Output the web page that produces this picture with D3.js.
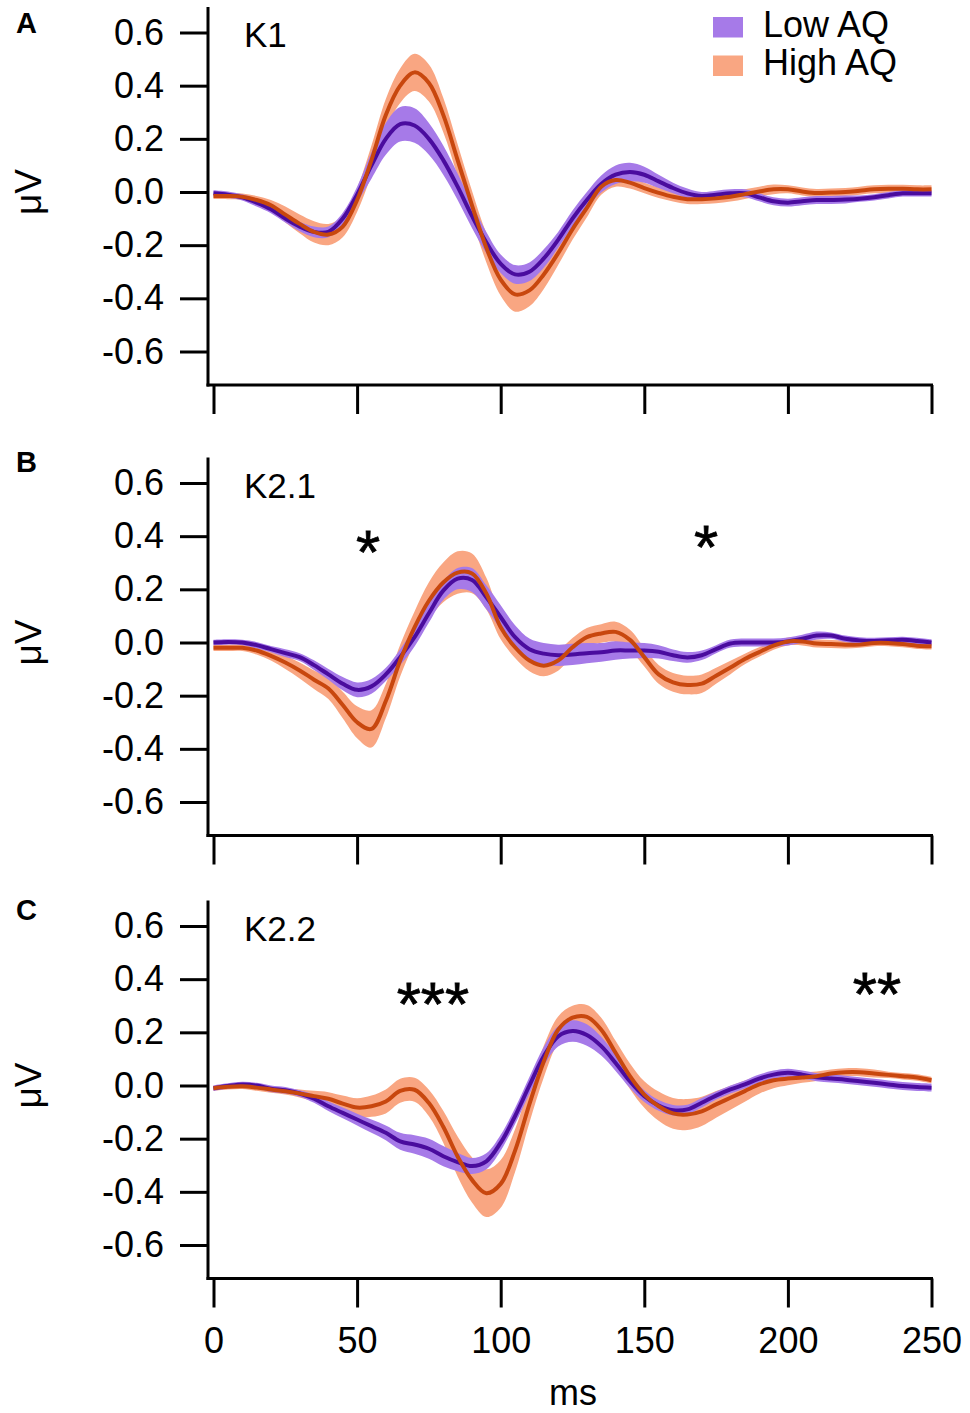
<!DOCTYPE html>
<html>
<head>
<meta charset="utf-8">
<script src="https://cdn.jsdelivr.net/npm/d3@7"></script>
<style>
  body { margin: 0; background: #fff; }
  svg text { font-family: "Liberation Sans", Arial, Helvetica, sans-serif; fill: #000; }
</style>
</head>
<body>
<div id="chart"></div>
<script>

// sample times (ms)
var times = [0, 5, 10, 15, 20, 25, 30, 35, 40, 45,
             50, 55, 60, 65, 70, 75, 80, 85, 90, 95,
             100, 105, 110, 115, 120, 125, 130, 135, 140, 145,
             150, 155, 160, 165, 170, 175, 180, 185, 190, 195,
             200, 205, 210, 215, 220, 225, 230, 235, 240, 245,
             250];

var xTicks = [0, 50, 100, 150, 200, 250];
var yTicks = [-0.6, -0.4, -0.2, 0, 0.2, 0.4, 0.6];
var groups = ["Low AQ", "High AQ"];

// K1 kernel (mean and sem, µV)
var lowA = [-0.005, -0.01, -0.02, -0.04, -0.065, -0.10, -0.13, -0.15, -0.15, -0.10,
            -0.01, 0.10, 0.20, 0.255, 0.25, 0.20, 0.12, 0.02, -0.09, -0.19,
            -0.27, -0.31, -0.30, -0.25, -0.18, -0.10, -0.03, 0.03, 0.065, 0.075,
            0.065, 0.04, 0.015, -0.005, -0.015, -0.01, -0.005, -0.005, -0.02, -0.035,
            -0.04, -0.035, -0.03, -0.03, -0.028, -0.025, -0.02, -0.012, -0.005, -0.005,
            -0.005];
var lowA_sem = [0.012, 0.012, 0.012, 0.015, 0.015, 0.015, 0.018, 0.02, 0.02, 0.022,
                0.03, 0.05, 0.06, 0.065, 0.065, 0.06, 0.055, 0.05, 0.045, 0.04,
                0.035, 0.035, 0.035, 0.035, 0.03, 0.03, 0.03, 0.032, 0.035, 0.035,
                0.03, 0.025, 0.02, 0.018, 0.015, 0.015, 0.015, 0.015, 0.015, 0.015,
                0.015, 0.015, 0.015, 0.015, 0.015, 0.012, 0.012, 0.012, 0.012, 0.012,
                0.012];
var highA = [-0.015, -0.015, -0.018, -0.03, -0.05, -0.085, -0.12, -0.15, -0.16, -0.13,
             -0.03, 0.12, 0.29, 0.40, 0.45, 0.41, 0.29, 0.12, -0.05, -0.21,
             -0.33, -0.385, -0.37, -0.31, -0.23, -0.14, -0.06, 0.02, 0.045, 0.035,
             0.015, -0.003, -0.018, -0.027, -0.027, -0.024, -0.018, -0.008, 0.002, 0.01,
             0.01, 0.002, -0.004, -0.002, 0.0, 0.005, 0.01, 0.012, 0.012, 0.01,
             0.01];
var highA_sem = [0.012, 0.012, 0.012, 0.015, 0.02, 0.03, 0.035, 0.04, 0.04, 0.04,
                 0.045, 0.055, 0.06, 0.065, 0.07, 0.07, 0.065, 0.06, 0.055, 0.055,
                 0.06, 0.065, 0.06, 0.055, 0.045, 0.04, 0.035, 0.03, 0.025, 0.022,
                 0.02, 0.02, 0.018, 0.018, 0.018, 0.018, 0.018, 0.018, 0.018, 0.018,
                 0.015, 0.015, 0.015, 0.015, 0.015, 0.015, 0.015, 0.015, 0.015, 0.015,
                 0.015];

// K2.1 kernel
var lowB = [0, 0.002, 0, -0.01, -0.025, -0.04, -0.055, -0.085, -0.12, -0.155,
            -0.178, -0.165, -0.12, -0.055, 0.02, 0.11, 0.195, 0.24, 0.235, 0.17,
            0.095, 0.02, -0.025, -0.042, -0.048, -0.045, -0.04, -0.037, -0.03, -0.03,
            -0.03, -0.035, -0.048, -0.056, -0.048, -0.025, -0.004, 0, 0, 0,
            0.004, 0.014, 0.026, 0.026, 0.014, 0.008, 0.006, 0.008, 0.01, 0.006,
            0];
var lowB_sem = [0.01, 0.01, 0.01, 0.012, 0.012, 0.015, 0.015, 0.018, 0.02, 0.025,
                0.028, 0.028, 0.025, 0.03, 0.035, 0.035, 0.035, 0.04, 0.045, 0.045,
                0.045, 0.045, 0.04, 0.04, 0.04, 0.04, 0.038, 0.035, 0.035, 0.03,
                0.028, 0.025, 0.022, 0.02, 0.018, 0.015, 0.015, 0.015, 0.015, 0.015,
                0.015, 0.015, 0.015, 0.012, 0.012, 0.012, 0.012, 0.012, 0.012, 0.012,
                0.012];
var highB = [-0.02, -0.02, -0.02, -0.03, -0.05, -0.075, -0.105, -0.14, -0.173, -0.235,
             -0.30, -0.325, -0.22, -0.068, 0.057, 0.157, 0.226, 0.263, 0.26, 0.184,
             0.057, -0.018, -0.068, -0.087, -0.068, -0.018, 0.02, 0.034, 0.04, 0.01,
             -0.055, -0.12, -0.15, -0.16, -0.155, -0.125, -0.094, -0.062, -0.036, -0.012,
             0.004, 0.004, -0.004, -0.006, -0.008, -0.008, -0.002, -0.002, -0.006, -0.012,
             -0.014];
var highB_sem = [0.012, 0.012, 0.012, 0.015, 0.018, 0.025, 0.03, 0.035, 0.04, 0.05,
                 0.06, 0.07, 0.065, 0.06, 0.06, 0.07, 0.075, 0.08, 0.075, 0.06,
                 0.045, 0.04, 0.04, 0.04, 0.038, 0.035, 0.035, 0.035, 0.038, 0.038,
                 0.035, 0.035, 0.035, 0.035, 0.035, 0.03, 0.025, 0.02, 0.018, 0.015,
                 0.015, 0.015, 0.015, 0.015, 0.015, 0.012, 0.012, 0.012, 0.012, 0.012,
                 0.012];

// K2.2 kernel
var lowC = [-0.01, -0.002, 0.004, 0, -0.012, -0.018, -0.03, -0.05, -0.078, -0.103,
            -0.128, -0.153, -0.178, -0.21, -0.222, -0.238, -0.266, -0.288, -0.303, -0.285,
            -0.215, -0.115, 0, 0.11, 0.185, 0.205, 0.19, 0.148, 0.085, 0.016,
            -0.04, -0.075, -0.093, -0.09, -0.065, -0.038, -0.015, 0.004, 0.026, 0.041,
            0.048, 0.041, 0.031, 0.026, 0.022, 0.016, 0.01, 0.004, -0.002, -0.006,
            -0.008];
var lowC_sem = [0.01, 0.01, 0.01, 0.01, 0.012, 0.012, 0.012, 0.015, 0.018, 0.02,
                0.022, 0.025, 0.028, 0.032, 0.035, 0.038, 0.038, 0.035, 0.03, 0.03,
                0.03, 0.03, 0.032, 0.035, 0.038, 0.04, 0.04, 0.035, 0.03, 0.025,
                0.022, 0.02, 0.02, 0.018, 0.018, 0.015, 0.015, 0.015, 0.015, 0.015,
                0.015, 0.015, 0.015, 0.015, 0.015, 0.015, 0.015, 0.015, 0.015, 0.015,
                0.015];
var highC = [-0.01, -0.005, -0.003, -0.008, -0.015, -0.022, -0.03, -0.04, -0.05, -0.068,
             -0.083, -0.078, -0.06, -0.02, -0.016, -0.066, -0.155, -0.267, -0.355, -0.405,
             -0.37, -0.245, -0.07, 0.09, 0.21, 0.255, 0.258, 0.21, 0.123, 0.035,
             -0.034, -0.078, -0.105, -0.109, -0.097, -0.071, -0.046, -0.021, 0.004, 0.02,
             0.026, 0.03, 0.035, 0.045, 0.05, 0.05, 0.045, 0.04, 0.035, 0.03,
             0.02];
var highC_sem = [0.01, 0.01, 0.01, 0.012, 0.012, 0.012, 0.015, 0.02, 0.025, 0.03,
                 0.035, 0.04, 0.045, 0.045, 0.045, 0.05, 0.06, 0.075, 0.085, 0.09,
                 0.09, 0.08, 0.07, 0.06, 0.05, 0.045, 0.045, 0.045, 0.045, 0.048,
                 0.05, 0.055, 0.058, 0.058, 0.055, 0.05, 0.045, 0.04, 0.035, 0.03,
                 0.025, 0.02, 0.018, 0.015, 0.015, 0.015, 0.015, 0.012, 0.012, 0.012,
                 0.012];

// significance marks (time, µV)
var starsA = [];
var starsB = [{t: 53.8, v: 0.375, label: "*"}, {t: 171.5, v: 0.394, label: "*"}];
var starsC = [{t: 76.4, v: 0.341, label: "***"}, {t: 231, v: 0.378, label: "**"}];

var colors = {lowBand: "#a67ae8", lowLine: "#4a0c9e", highBand: "#f9a682", highLine: "#c8470e"};

var panels = [
  {letter: "A", name: "K1",   top: 32.5, letterY: 33,  low: lowA, lowSem: lowA_sem, high: highA, highSem: highA_sem, stars: starsA},
  {letter: "B", name: "K2.1", top: 483,  letterY: 472, low: lowB, lowSem: lowB_sem, high: highB, highSem: highB_sem, stars: starsB},
  {letter: "C", name: "K2.2", top: 926,  letterY: 920, low: lowC, lowSem: lowC_sem, high: highC, highSem: highC_sem, stars: starsC}
];

var width = 970, height = 1413;
var axisX = 208;

var svg = d3.select("#chart")
  .append("svg")
    .attr("width", width)
    .attr("height", height);

var x = d3.scaleLinear()
  .domain([0, 250])
  .range([213.5, 931.5]);

panels.forEach(function(p, pi) {
  var y = d3.scaleLinear()
    .domain([-0.6, 0.6])
    .range([p.top + 319, p.top]);
  var bottomY = p.top + 352.5;
  var g = svg.append("g");

  var band = function(mean, sem) {
    return d3.area()
      .x(function(d, i) { return x(times[i]); })
      .y0(function(d, i) { return y(mean[i] - sem[i]); })
      .y1(function(d, i) { return y(mean[i] + sem[i]); })
      .curve(d3.curveCatmullRom)(mean);
  };
  var line = d3.line()
    .x(function(d, i) { return x(times[i]); })
    .y(function(d) { return y(d); })
    .curve(d3.curveCatmullRom);

  g.append("path").attr("d", band(p.high, p.highSem)).style("fill", colors.highBand);
  g.append("path").attr("d", band(p.low, p.lowSem)).style("fill", colors.lowBand);
  g.append("path").attr("d", line(p.low))
    .style("fill", "none").style("stroke", colors.lowLine).style("stroke-width", 4)
    .style("stroke-linejoin", "round");
  g.append("path").attr("d", line(p.high))
    .style("fill", "none").style("stroke", colors.highLine).style("stroke-width", 4)
    .style("stroke-linejoin", "round");

  // left axis
  var ya = g.append("g")
    .attr("transform", "translate(" + axisX + ",0)")
    .call(d3.axisLeft(y).tickValues(yTicks).tickSize(28).tickPadding(16)
      .tickFormat(function(d) { return d.toFixed(1); }));
  ya.select(".domain").remove();
  ya.selectAll(".tick line").style("stroke", "#000").style("stroke-width", 3);
  ya.selectAll(".tick text").style("font-size", "36px");
  g.append("line")
    .attr("x1", axisX).attr("x2", axisX)
    .attr("y1", p.top - 25.5).attr("y2", bottomY + 1.5)
    .style("stroke", "#000").style("stroke-width", 3);

  // bottom axis
  var xa = g.append("g")
    .attr("transform", "translate(0," + bottomY + ")")
    .call(d3.axisBottom(x).tickValues(xTicks).tickSize(29).tickPadding(20)
      .tickFormat(pi === 2 ? d3.format("d") : function() { return ""; }));
  xa.select(".domain").remove();
  xa.selectAll(".tick line").style("stroke", "#000").style("stroke-width", 3);
  xa.selectAll(".tick text").style("font-size", "36px");
  g.append("line")
    .attr("x1", axisX - 1.5).attr("x2", x(250) + 1.5)
    .attr("y1", bottomY).attr("y2", bottomY)
    .style("stroke", "#000").style("stroke-width", 3);

  // labels
  g.append("text")
    .attr("x", 16).attr("y", p.letterY)
    .style("font-size", "29px").style("font-weight", "bold")
    .text(p.letter);
  g.append("text")
    .attr("x", 244).attr("y", p.top + 14.5)
    .style("font-size", "35px")
    .text(p.name);
  g.append("text")
    .attr("transform", "translate(41," + y(0) + ") rotate(-90)")
    .attr("text-anchor", "middle")
    .style("font-size", "37px")
    .text("\u03BCV");

  g.selectAll(".star")
    .data(p.stars)
    .enter().append("text")
      .attr("class", "star")
      .attr("x", function(d) { return x(d.t); })
      .attr("y", function(d) { return y(d.v); })
      .attr("dy", "0.48em")
      .attr("text-anchor", "middle")
      .style("font-size", "62px")
      .style("stroke", "#000")
      .style("stroke-width", 0.8)
      .text(function(d) { return d.label; });
});

// x axis title
svg.append("text")
  .attr("x", 573).attr("y", 1405)
  .attr("text-anchor", "middle")
  .style("font-size", "36px")
  .text("ms");

// legend
var legend = svg.append("g");
groups.forEach(function(name, i) {
  legend.append("rect")
    .attr("x", 713).attr("y", 17 + i * 38.5)
    .attr("width", 30).attr("height", 20.5)
    .style("fill", i === 0 ? colors.lowBand : colors.highBand);
  legend.append("text")
    .attr("x", 763).attr("y", 37 + i * 38)
    .style("font-size", "36px")
    .text(name);
});

</script>
</body>
</html>
